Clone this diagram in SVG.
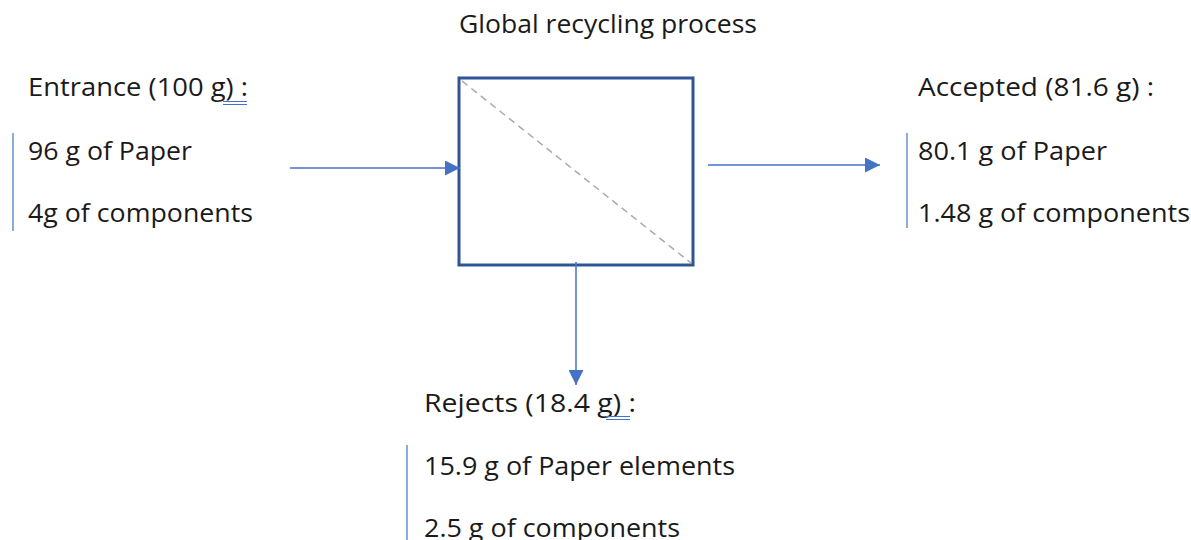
<svg xmlns="http://www.w3.org/2000/svg" width="1191" height="540" viewBox="0 0 1191 540">
<style>
text{font-family:"Open Sans","Noto Sans",sans-serif;font-size:26px;fill:#1a1a1a}
.bar{stroke:#4472C4;stroke-width:1.2}
.conn{stroke:#4472C4;stroke-width:1.5;fill:none}
.ul{stroke:#4472C4;stroke-width:1}
</style>
<defs>
<marker id="ah2" viewBox="0 0 10 10" refX="10" refY="5" markerWidth="15" markerHeight="15" markerUnits="userSpaceOnUse" orient="auto">
<path d="M0,0 L10,5 L0,10 z" fill="#4472C4"/>
</marker>
</defs>
<rect width="1191" height="540" fill="#fff"/>
<g id="title"><text x="459" y="33" textLength="298" lengthAdjust="spacingAndGlyphs">Global recycling process</text></g>
<g id="process">
<rect x="459" y="78" width="234" height="187" fill="#fff" stroke="#2F5597" stroke-width="3"/>
<line x1="462" y1="81" x2="691" y2="263" stroke="#aaaaaa" stroke-width="1.5" stroke-dasharray="7,5"/>
</g>
<g id="entrance">
<text x="28" y="96" textLength="220" lengthAdjust="spacingAndGlyphs">Entrance (100 g) :</text>
<line class="ul" x1="223" y1="101.5" x2="247" y2="101.5"/>
<line class="ul" x1="223" y1="104.5" x2="247" y2="104.5"/>
<line class="bar" x1="13" y1="133" x2="13" y2="231"/>
<text x="28" y="160" textLength="164" lengthAdjust="spacingAndGlyphs">96 g of Paper</text>
<text x="28" y="222" textLength="225" lengthAdjust="spacingAndGlyphs">4g of components</text>
</g>
<g id="accepted">
<text x="918" y="96" textLength="236" lengthAdjust="spacingAndGlyphs">Accepted (81.6 g) :</text>
<line class="bar" x1="907" y1="133" x2="907" y2="228"/>
<text x="918" y="160" textLength="189" lengthAdjust="spacingAndGlyphs">80.1 g of Paper</text>
<text x="918" y="222" textLength="272" lengthAdjust="spacingAndGlyphs">1.48 g of components</text>
</g>
<g id="rejects">
<text x="424" y="412" textLength="212" lengthAdjust="spacingAndGlyphs">Rejects (18.4 g) :</text>
<line class="ul" x1="606" y1="416.5" x2="630" y2="416.5"/>
<line class="ul" x1="606" y1="419.5" x2="630" y2="419.5"/>
<line class="bar" x1="407" y1="445" x2="407" y2="540"/>
<text x="424" y="475" textLength="311" lengthAdjust="spacingAndGlyphs">15.9 g of Paper elements</text>
<text x="424" y="537" textLength="256" lengthAdjust="spacingAndGlyphs">2.5 g of components</text>
</g>
<g id="connectors">
<path class="conn" d="M290,168 L460,168" marker-end="url(#ah2)"/>
<path class="conn" d="M708,165 L880,165" marker-end="url(#ah2)"/>
<path class="conn" d="M576,262 L576,385" marker-end="url(#ah2)"/>
</g>
</svg>
